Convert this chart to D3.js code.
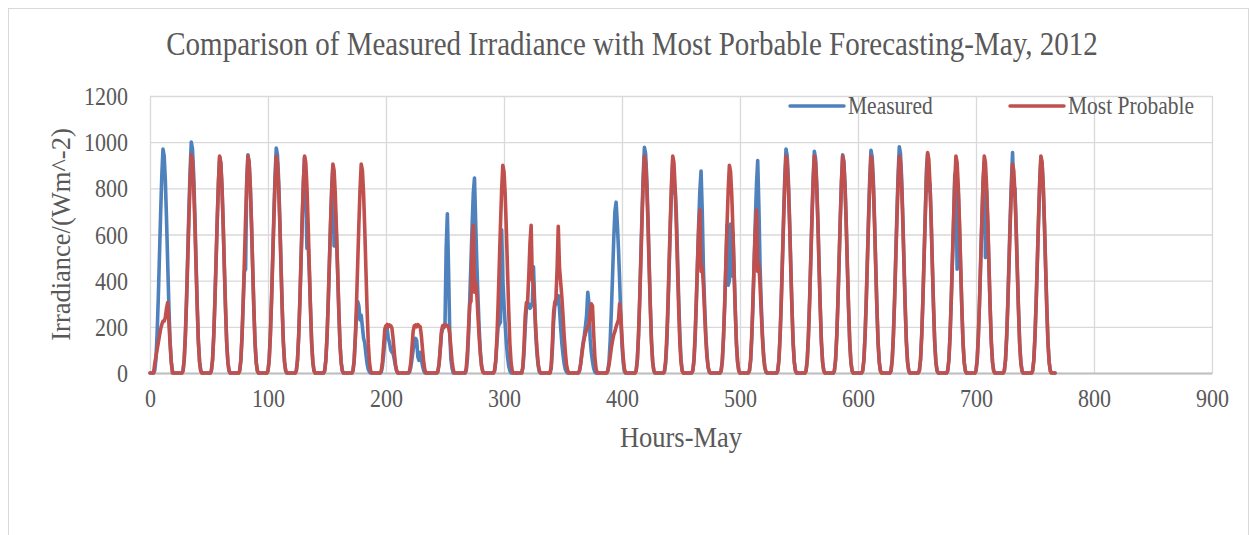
<!DOCTYPE html>
<html>
<head>
<meta charset="utf-8">
<script src="https://cdn.jsdelivr.net/npm/d3@7/dist/d3.min.js"></script>
<style>
  body { margin: 0; background: #fff; }
  text { font-family: "Liberation Serif", "Times New Roman", serif; fill: #595959; }
</style>
</head>
<body>
<div id="container"></div>
<script>
let w = 1252;
let h = 535;

// DATA
let xTicks = [0, 100, 200, 300, 400, 500, 600, 700, 800, 900];
let yTicks = [0, 200, 400, 600, 800, 1000, 1200];
let seriesNames = ["Measured", "Most Probable"];
// hours of the day that carry a value (all other hours are 0)
let dayHours = [4, 5, 6, 7, 8, 9, 10, 11, 12, 13, 14, 15, 16, 17, 18, 19];

// Measured irradiance, one row per day of May (W/m^2)
let measured = [
  [10, 58, 165, 320, 504, 689, 854, 970, 941, 834, 669, 475, 291, 136, 49, 10],
  [10, 60, 170, 330, 520, 710, 880, 1000, 970, 860, 690, 490, 300, 140, 50, 10],
  [9, 56, 159, 309, 486, 664, 823, 935, 907, 804, 645, 458, 281, 131, 47, 9],
  [9, 56, 160, 310, 440, 450, 830, 945, 912, 808, 649, 461, 282, 132, 47, 9],
  [10, 59, 166, 322, 507, 692, 858, 975, 946, 839, 673, 478, 293, 137, 49, 10],
  [9, 56, 160, 310, 489, 667, 827, 935, 780, 540, 560, 440, 282, 132, 47, 9],
  [9, 54, 154, 299, 471, 643, 796, 900, 550, 700, 600, 443, 272, 127, 45, 9],
  [10, 50, 150, 250, 310, 290, 230, 250, 200, 150, 130, 80, 40, 15, 5, 0],
  [5, 30, 80, 140, 200, 190, 150, 130, 100, 90, 85, 60, 30, 10, 0, 0],
  [5, 25, 60, 100, 130, 150, 140, 70, 55, 90, 60, 30, 10, 0, 0, 0],
  [5, 40, 100, 170, 190, 200, 210, 540, 690, 450, 180, 60, 20, 0, 0, 0],
  [10, 60, 170, 320, 480, 640, 780, 845, 650, 470, 320, 190, 90, 30, 8, 0],
  [10, 50, 130, 200, 210, 220, 620, 400, 300, 210, 130, 70, 30, 10, 0, 0],
  [20, 90, 200, 280, 290, 300, 280, 290, 300, 460, 300, 160, 80, 30, 5, 0],
  [20, 100, 220, 290, 300, 310, 335, 280, 200, 130, 80, 40, 15, 5, 0, 0],
  [10, 40, 90, 130, 160, 200, 250, 350, 300, 150, 90, 50, 20, 5, 0, 0],
  [10, 50, 140, 270, 420, 580, 700, 740, 650, 540, 400, 240, 120, 45, 10, 0],
  [10, 59, 167, 323, 510, 696, 862, 978, 951, 843, 676, 480, 294, 137, 49, 10],
  [5, 40, 130, 280, 460, 640, 800, 920, 780, 800, 700, 520, 330, 170, 60, 10],
  [10, 50, 150, 300, 480, 650, 790, 875, 700, 450, 300, 170, 80, 25, 5, 0],
  [8, 50, 150, 290, 460, 640, 380, 400, 645, 420, 610, 440, 270, 125, 45, 9],
  [10, 50, 150, 300, 480, 660, 820, 920, 720, 460, 300, 170, 80, 25, 5, 0],
  [10, 58, 165, 320, 504, 689, 854, 970, 941, 834, 669, 475, 291, 136, 49, 10],
  [10, 58, 163, 317, 499, 682, 845, 960, 931, 826, 662, 470, 288, 134, 48, 10],
  [9, 57, 161, 312, 491, 671, 832, 945, 917, 813, 652, 463, 284, 132, 47, 9],
  [10, 58, 164, 318, 502, 685, 849, 965, 936, 830, 666, 473, 290, 135, 48, 10],
  [10, 59, 167, 323, 510, 696, 862, 980, 951, 843, 676, 480, 294, 137, 49, 10],
  [10, 59, 164, 318, 502, 685, 880, 950, 790, 820, 666, 473, 290, 135, 48, 10],
  [9, 56, 160, 310, 489, 650, 860, 870, 450, 780, 640, 461, 282, 132, 47, 9],
  [9, 56, 160, 310, 489, 667, 827, 915, 500, 790, 649, 461, 282, 132, 47, 9],
  [10, 57, 162, 314, 494, 675, 830, 955, 770, 800, 640, 455, 280, 130, 47, 9],
  [9, 56, 159, 309, 486, 664, 823, 935, 907, 804, 645, 458, 281, 131, 47, 9]
];

// Most probable forecast, one row per day
let mostProbable = [
  [40, 70, 100, 130, 160, 190, 210, 225, 225, 240, 280, 305, 220, 130, 50, 0],
  [9, 57, 161, 312, 491, 671, 832, 945, 917, 813, 652, 463, 284, 132, 47, 9],
  [9, 56, 160, 310, 489, 667, 827, 940, 912, 808, 649, 461, 282, 132, 47, 9],
  [9, 56, 160, 310, 489, 667, 827, 940, 912, 808, 649, 461, 282, 132, 47, 9],
  [9, 56, 160, 310, 489, 667, 827, 940, 912, 808, 649, 461, 282, 132, 47, 9],
  [9, 56, 160, 310, 489, 667, 827, 940, 912, 808, 649, 461, 282, 132, 47, 9],
  [9, 54, 154, 299, 471, 643, 796, 905, 878, 778, 624, 443, 272, 127, 45, 9],
  [9, 54, 154, 299, 471, 643, 796, 905, 878, 778, 624, 443, 272, 127, 45, 9],
  [10, 50, 120, 190, 205, 210, 200, 208, 205, 195, 150, 90, 40, 10, 0, 0],
  [10, 45, 110, 180, 205, 208, 200, 210, 205, 200, 160, 100, 45, 12, 0, 0],
  [10, 40, 110, 180, 205, 208, 200, 208, 205, 200, 170, 110, 50, 15, 0, 0],
  [20, 90, 200, 300, 310, 560, 640, 350, 395, 340, 240, 150, 80, 30, 5, 0],
  [9, 54, 153, 297, 468, 639, 792, 900, 873, 774, 621, 441, 270, 126, 45, 9],
  [30, 120, 250, 305, 310, 420, 560, 640, 400, 390, 280, 180, 100, 40, 10, 0],
  [30, 130, 260, 305, 320, 450, 635, 460, 395, 330, 250, 160, 90, 35, 10, 0],
  [10, 40, 80, 120, 150, 170, 190, 200, 210, 250, 300, 290, 170, 70, 20, 0],
  [10, 35, 70, 110, 140, 165, 180, 200, 215, 230, 300, 250, 150, 70, 20, 0],
  [9, 56, 160, 310, 489, 667, 827, 940, 912, 808, 649, 461, 282, 132, 47, 9],
  [9, 56, 160, 310, 489, 667, 827, 940, 912, 808, 649, 461, 282, 132, 47, 9],
  [10, 60, 170, 320, 480, 620, 706, 440, 460, 380, 260, 150, 70, 25, 5, 0],
  [9, 54, 153, 297, 468, 639, 792, 900, 873, 774, 621, 441, 270, 126, 45, 9],
  [10, 60, 170, 320, 480, 620, 706, 440, 470, 380, 260, 150, 70, 25, 5, 0],
  [9, 56, 160, 310, 489, 667, 827, 940, 912, 808, 649, 461, 282, 132, 47, 9],
  [9, 56, 160, 310, 489, 667, 827, 940, 912, 808, 649, 461, 282, 132, 47, 9],
  [9, 56, 160, 310, 489, 667, 827, 940, 912, 808, 649, 461, 282, 132, 47, 9],
  [9, 56, 160, 310, 489, 667, 827, 940, 912, 808, 649, 461, 282, 132, 47, 9],
  [9, 56, 160, 310, 489, 667, 827, 940, 912, 808, 649, 461, 282, 132, 47, 9],
  [10, 57, 163, 315, 497, 678, 840, 955, 926, 821, 659, 468, 286, 134, 48, 10],
  [9, 56, 160, 310, 489, 667, 827, 940, 912, 808, 649, 461, 282, 132, 47, 9],
  [9, 56, 160, 310, 489, 667, 827, 940, 912, 808, 649, 461, 282, 132, 47, 9],
  [9, 54, 154, 299, 471, 643, 796, 905, 878, 778, 624, 443, 272, 127, 45, 9],
  [9, 56, 160, 310, 489, 667, 827, 940, 912, 808, 649, 461, 282, 132, 47, 9]
];

let colors = ["#4F81BD", "#C0504D"];
let stretch = 1.15; // the original text is a little taller than wide

// lay the daily rows out along the hour axis
function toHourly(days) {
  let out = [];
  days.forEach(function(vals, d) {
    for (let hr = 0; hr < 24; hr++) {
      let k = dayHours.indexOf(hr);
      out.push({ hour: d * 24 + hr, value: k >= 0 ? vals[k] : 0 });
    }
  });
  return out;
}
let series = [toHourly(measured), toHourly(mostProbable)];

// SVG
let viz = d3.select("#container").append("svg")
    .attr("width", w)
    .attr("height", h)
    .style("display", "block")
;

// chart border
viz.append("rect")
    .attr("x", 8.5).attr("y", 8.5)
    .attr("width", 1240).attr("height", 540)
    .attr("fill", "none")
    .attr("stroke", "#D9D9D9")
    .attr("stroke-width", 1)
;

let plotLeft = 150, plotRight = 1212, plotTop = 96, plotBottom = 373;

// SCALES
let xScale = d3.scaleLinear().domain([0, 900]).range([plotLeft, plotRight]);
let yScale = d3.scaleLinear().domain([0, 1200]).range([plotBottom, plotTop]);

// gridlines
let xGrid = d3.axisBottom(xScale).tickValues(xTicks).tickSize(-(plotBottom - plotTop)).tickFormat("");
let yGrid = d3.axisLeft(yScale).tickValues(yTicks).tickSize(-(plotRight - plotLeft)).tickFormat("");

viz.append("g").attr("transform", "translate(0," + plotBottom + ")").call(xGrid)
  .call(g => g.select(".domain").remove())
  .selectAll("line").attr("stroke", "#D9D9D9").attr("stroke-width", 1.3);
viz.append("g").attr("transform", "translate(" + plotLeft + ",0)").call(yGrid)
  .call(g => g.select(".domain").remove())
  .selectAll("line").attr("stroke", "#D9D9D9").attr("stroke-width", 1.3);

// axis labels
let xAxis = d3.axisBottom(xScale).tickValues(xTicks).tickSize(0).tickFormat(d3.format("d"));
let yAxis = d3.axisLeft(yScale).tickValues(yTicks).tickSize(0).tickFormat(d3.format("d"));

viz.append("g").attr("transform", "translate(0," + plotBottom + ")").call(xAxis)
  .call(g => g.select(".domain").attr("stroke", "#BFBFBF").attr("stroke-width", 2))
  .selectAll("text")
    .attr("y", null).attr("dy", null)
    .attr("transform", "translate(0,33.5) scale(1," + stretch + ")")
    .style("font-size", "22px")
    .attr("fill", "#595959");

viz.append("g").attr("transform", "translate(" + plotLeft + ",0)").call(yAxis)
  .call(g => g.select(".domain").remove())
  .selectAll("text")
    .attr("x", null).attr("dy", null)
    .attr("transform", "translate(-22,8.5) scale(1," + stretch + ")")
    .style("font-size", "22px")
    .attr("fill", "#595959");

// LINES
let lineMaker = d3.line()
    .x(function(d) { return xScale(d.hour); })
    .y(function(d) { return yScale(d.value); })
;

viz.selectAll(".series").data(series).enter()
  .append("path")
    .attr("class", "series")
    .attr("d", lineMaker)
    .attr("fill", "none")
    .attr("stroke", function(d, i) { return colors[i]; })
    .attr("stroke-width", 3.6)
    .attr("stroke-linejoin", "round")
    .attr("stroke-linecap", "round")
;

// TITLES
viz.append("text")
    .attr("transform", "translate(632,55) scale(1," + stretch + ")")
    .attr("text-anchor", "middle")
    .style("font-size", "29px")
    .text("Comparison of Measured Irradiance with Most Porbable Forecasting-May, 2012");

viz.append("text")
    .attr("transform", "translate(" + xScale(450) + ",447) scale(1," + stretch + ")")
    .attr("text-anchor", "middle")
    .style("font-size", "26.5px")
    .text("Hours-May");

viz.append("text")
    .attr("transform", "translate(70," + yScale(600) + ") rotate(-90)")
    .attr("text-anchor", "middle")
    .style("font-size", "26.5px")
    .text("Irradiance/(Wm^-2)");

// LEGEND
let legendX = [790, 1010];
let legend = viz.selectAll(".legend").data(seriesNames).enter()
  .append("g")
    .attr("class", "legend")
    .attr("transform", function(d, i) { return "translate(" + legendX[i] + ",106)"; });
legend.append("line")
    .attr("x1", 0).attr("x2", 54)
    .attr("y1", 0).attr("y2", 0)
    .attr("stroke", function(d, i) { return colors[i]; })
    .attr("stroke-width", 3.5)
    .attr("stroke-linecap", "round");
legend.append("text")
    .attr("transform", "translate(58,8) scale(1," + stretch + ")")
    .style("font-size", "21.5px")
    .text(function(d) { return d; });
</script>
</body>
</html>
